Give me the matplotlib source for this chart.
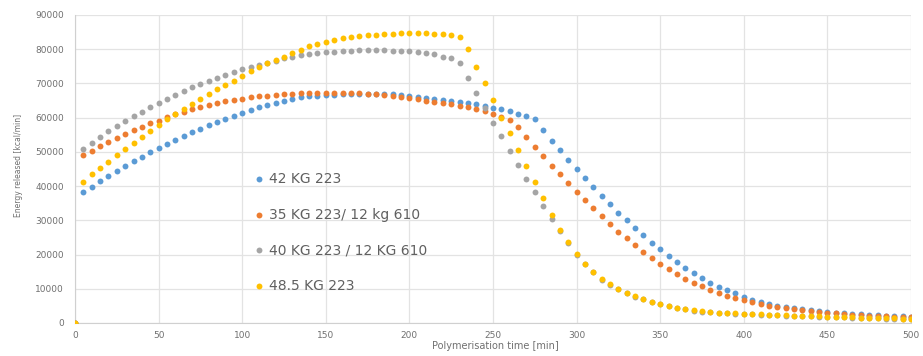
import matplotlib
matplotlib.use("Agg")
import matplotlib.pyplot as plt
import numpy as np

time_min = list(range(0, 505, 5))

series_labels = ["42 KG 223", "35 KG 223/ 12 kg 610", "40 KG 223 / 12 KG 610", "48.5 KG 223"]

kg42 = [0,
    38400, 39800, 41600, 43000, 44500, 46000, 47300, 48600, 49900, 51100,
    52300, 53500, 54600, 55800, 56800, 57800, 58800, 59700, 60600, 61400,
    62200, 63000, 63700, 64300, 64900, 65400, 65900, 66200, 66400, 66600,
    66700, 66800, 66900, 66900, 66900, 66900, 66850, 66800, 66600, 66350,
    66150, 65850, 65550, 65200, 64900, 64600, 64200, 63900, 63500, 62900,
    62500, 61900, 61200, 60400, 59500, 56400, 53300, 50500, 47600, 45000,
    42300, 39700, 37200, 34700, 32200, 30100, 27850, 25600, 23460, 21500,
    19600, 17800, 16000, 14500, 13060, 11800, 10500, 9600, 8650, 7600,
    6800, 6200, 5600, 5100, 4700, 4300, 4000, 3700, 3450, 3250,
    3050, 2850, 2700, 2550, 2400, 2250, 2150, 2050, 1950, 1850]

kg35_12 = [0,
    49000, 50300, 51700, 53000, 54100, 55200, 56400, 57400, 58300, 59100,
    60100, 61000, 61700, 62400, 63000, 63700, 64300, 64800, 65200, 65500,
    65900, 66200, 66400, 66600, 66800, 67000, 67100, 67200, 67300, 67300,
    67300, 67300, 67250, 67150, 67000, 66800, 66600, 66300, 65950, 65650,
    65350, 64950, 64650, 64200, 63900, 63500, 63000, 62500, 61900, 61000,
    60200, 59300, 57400, 54400, 51500, 48800, 46000, 43400, 40800, 38400,
    35900, 33500, 31200, 29000, 26700, 24700, 22800, 20800, 19000, 17200,
    15700, 14300, 12900, 11800, 10700, 9700, 8800, 8000, 7300, 6700,
    6100, 5600, 5100, 4700, 4300, 4000, 3700, 3400, 3200, 3000,
    2800, 2600, 2450, 2300, 2150, 2050, 1950, 1850, 1750, 1700]

kg40_12 = [0,
    50800, 52700, 54400, 56200, 57600, 59100, 60500, 61700, 63000, 64200,
    65400, 66600, 67800, 68900, 69800, 70800, 71700, 72500, 73300, 74100,
    74800, 75500, 76100, 76700, 77300, 77800, 78200, 78500, 78800, 79100,
    79300, 79500, 79600, 79700, 79700, 79700, 79650, 79600, 79500, 79400,
    79200, 78900, 78500, 77800, 77300, 75900, 71500, 67300, 62900, 58500,
    54600, 50400, 46200, 42100, 38200, 34200, 30400, 26800, 23400, 19900,
    17200, 14800, 12700, 11100, 9800, 8700, 7700, 6900, 6100, 5450,
    4950, 4450, 4050, 3650, 3350, 3100, 2950, 2850, 2750, 2650,
    2550, 2450, 2350, 2250, 2150, 2050, 1970, 1900, 1820, 1750,
    1680, 1610, 1550, 1480, 1420, 1360, 1300, 1250, 1200, 1150]

kg48_5 = [0,
    41300, 43500, 45200, 47100, 49100, 50800, 52500, 54400, 56100, 57900,
    59500, 61000, 62400, 64000, 65400, 66800, 68300, 69500, 70800, 72200,
    73600, 74900, 75900, 76900, 77800, 78800, 79800, 80800, 81600, 82200,
    82800, 83300, 83650, 83900, 84100, 84300, 84430, 84530, 84600, 84630,
    84630, 84600, 84530, 84340, 84140, 83700, 80000, 74900, 70200, 65200,
    59800, 55400, 50600, 46000, 41200, 36500, 31600, 27100, 23600, 20100,
    17300, 15000, 12900, 11300, 9900, 8800, 7800, 6950, 6200, 5550,
    5000, 4500, 4100, 3750, 3450, 3200, 3050, 2950, 2850, 2750,
    2650, 2550, 2450, 2350, 2250, 2150, 2050, 1980, 1900, 1830,
    1750, 1680, 1620, 1550, 1490, 1430, 1370, 1320, 1270, 1220]

colors = ["#5B9BD5", "#ED7D31", "#A5A5A5", "#FFC000"]

left_px, right_px, top_px, bot_px = 75, 911, 15, 323
fig = plt.figure(figsize=(9.23, 3.56), dpi=100)
ax = fig.add_axes([left_px/923, 1 - bot_px/356, (right_px - left_px)/923, (bot_px - top_px)/356])

for vals, c, lab in zip([kg42, kg35_12, kg40_12, kg48_5], colors, series_labels):
    ax.scatter(time_min, vals, s=18, color=c, label=lab, linewidths=0, zorder=3)

ax.set_xlim(0, 500)
ax.set_ylim(0, 90000)
ax.set_xticks(np.arange(0, 501, 50))
ax.set_yticks(np.arange(0, 90001, 10000))
ax.grid(True, color="#E3E3E3", linewidth=0.9)
ax.set_axisbelow(True)
for s in ["top", "right"]:
    ax.spines[s].set_visible(False)
for s in ["left", "bottom"]:
    ax.spines[s].set_color("#D0D0D0")
ax.tick_params(axis="both", length=0, labelsize=6.5, labelcolor="#707070")
ax.tick_params(axis="y", pad=8)
ax.tick_params(axis="x", pad=6)

fig.text(495/923, 1 - 346/356, "Polymerisation time [min]", ha="center", va="center",
         fontsize=7, color="#707070")
fig.text(19/923, 1 - 165/356, "Energy released [kcal/min]", ha="center", va="center",
         rotation=90, fontsize=5.5, color="#707070")

ax_w = right_px - left_px
leg = ax.legend(loc="upper left", bbox_to_anchor=((253 - left_px)/ax_w, (323 - 172)/308),
                frameon=False, fontsize=10, labelspacing=1.55, handletextpad=0.35,
                handlelength=0.8, markerscale=1.0, borderpad=0, borderaxespad=0)
for t in leg.get_texts():
    t.set_color("#606060")

fig.savefig("out.png", dpi=100)
